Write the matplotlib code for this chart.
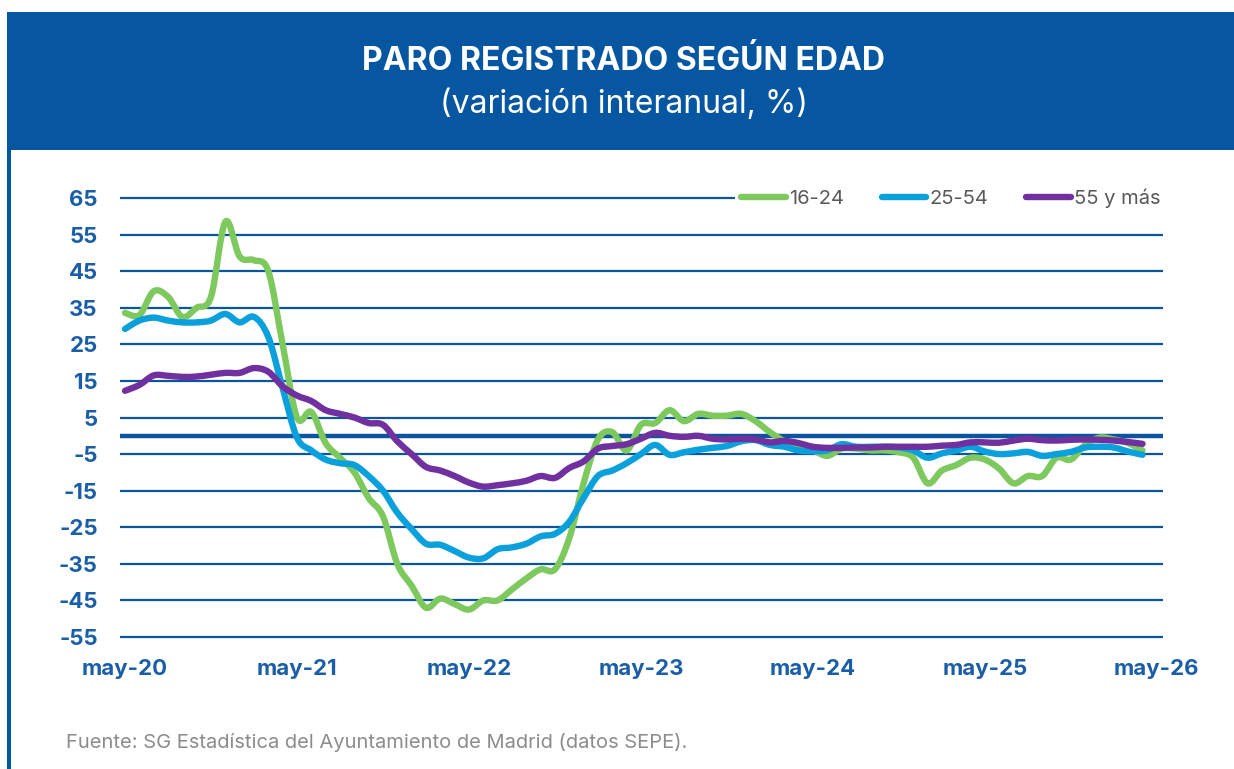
import matplotlib
matplotlib.use("Agg")
import matplotlib.pyplot as plt
from matplotlib.patches import Rectangle, PathPatch
from matplotlib.path import Path
from matplotlib.lines import Line2D

title = "PARO REGISTRADO SEGÚN EDAD"
subtitle = "(variación interanual, %)"
source = "Fuente: SG Estadística del Ayuntamiento de Madrid (datos SEPE)."

series_names = ["16-24", "25-54", "55 y más"]

x_tick_labels = ["may-20", "may-21", "may-22", "may-23", "may-24", "may-25", "may-26"]
y_ticks = [65, 55, 45, 35, 25, 15, 5, -5, -15, -25, -35, -45, -55]

# monthly values, may-20 onwards
g_16_24 = [33.6, 33, 39.5, 38, 32.5, 35, 38, 58.5, 49, 48, 45, 25,
           5, 6.5, -2, -6, -10, -17, -22, -35, -41, -47, -44.5, -46,
           -47.5, -45, -45, -42, -39, -36.5, -36.5, -28, -13, -1, 1, -4,
           3, 3.5, 7, 4, 6, 5.5, 5.5, 6, 4, 1, -1.5, -3.5,
           -4, -5.5, -3.5, -3.5, -4, -4, -4.5, -6, -13, -9.5, -8, -6,
           -6.5, -9, -13, -11, -11, -6, -6.5, -2.5, -0.5, -1, -2, -4]
g_25_54 = [29.2, 31.5, 32.3, 31.5, 31, 31, 31.5, 33.3, 31, 32.5, 27, 13,
           -0.5, -4, -6.5, -7.5, -8, -11, -15, -21, -25.5, -29.5, -29.8, -31.5,
           -33.3, -33.5, -31, -30.5, -29.5, -27.5, -26.8, -23.5, -17, -11, -9.5, -7.5,
           -5, -2.5, -5.2, -4.5, -3.8, -3.3, -2.8, -1.5, -1.2, -2.5, -3, -4,
           -4.2, -4, -2.3, -3, -3, -3, -3.2, -4, -6, -4.8, -4, -3,
           -4.3, -5, -4.8, -4.4, -5.5, -5, -4.4, -3.2, -3, -3.2, -4.3, -5.2]
g_55_mas = [12.3, 13.9, 16.5, 16.4, 16.1, 16.2, 16.7, 17.2, 17.2, 18.5, 17.5, 13.5,
            11, 9.5, 7, 6, 5, 3.5, 3, -1.5, -5, -8.5, -9.5, -11,
            -12.8, -13.9, -13.5, -13, -12.3, -11, -11.5, -8.8, -7, -3.5, -2.8, -2.3,
            -0.8, 0.8, 0, -0.3, 0, -0.8, -1, -0.8, -1, -1.8, -1.4, -2,
            -3, -3.3, -3.3, -3.2, -3.2, -3, -3, -3, -3, -2.7, -2.5, -1.8,
            -1.8, -1.9, -1.3, -0.8, -1.2, -1.3, -1.1, -1, -1.1, -1.3, -1.7, -2.2]

colors = ["#7dc95e", "#0aa0dc", "#7030a0"]
header_blue = "#0656a2"
grid_blue = "#0b559f"
tick_blue = "#1b5ea8"

W, H = 1234, 769
fig = plt.figure(figsize=(W / 100, H / 100), dpi=100)
fig.patch.set_facecolor("white")

def fx(px):
    return px / W

def fy(py):
    return 1 - py / H

def smooth_path(xs, ys):
    # smoothed line (like a spreadsheet "smoothed line") through the data points
    n = len(xs)
    verts = [(xs[0], ys[0])]
    codes = [Path.MOVETO]
    for i in range(n - 1):
        i0 = max(i - 1, 0)
        i3 = min(i + 2, n - 1)
        c1 = (xs[i] + (xs[i + 1] - xs[i0]) / 6, ys[i] + (ys[i + 1] - ys[i0]) / 6)
        c2 = (xs[i + 1] - (xs[i3] - xs[i]) / 6, ys[i + 1] - (ys[i3] - ys[i]) / 6)
        verts += [c1, c2, (xs[i + 1], ys[i + 1])]
        codes += [Path.CURVE4] * 3
    return Path(verts, codes)

# header band and left border
fig.patches.append(Rectangle((fx(8), fy(150)), fx(W), 138 / H, transform=fig.transFigure,
                             facecolor=header_blue, edgecolor="none", zorder=0))
fig.patches.append(Rectangle((fx(7), 0), 3.5 / W, fy(12), transform=fig.transFigure,
                             facecolor=header_blue, edgecolor="none", zorder=0))

fig.text(fx(624), fy(62), title, color="white", fontsize=23, fontweight="bold",
         ha="center", va="center", family="Inter")
fig.text(fx(624), fy(104), subtitle, color="white", fontsize=23,
         ha="center", va="center", family="Inter")

# axes
left, right, top, bottom = 120, 1163, 198, 637
ax = fig.add_axes([fx(left), fy(bottom), (right - left) / W, (bottom - top) / H])
ax.set_facecolor("none")
x = list(range(len(g_16_24)))
ax.set_xlim(-0.35, 72.43)
ax.set_ylim(-55, 65)

for yv in y_ticks:
    ax.axhline(yv, color=grid_blue, lw=1.6, zorder=1, clip_on=False, solid_capstyle="butt")
ax.axhline(0, color=grid_blue, lw=3.2, zorder=1, solid_capstyle="butt")

for vals, c, name in zip([g_16_24, g_25_54, g_55_mas], colors, series_names):
    patch = PathPatch(smooth_path(x, vals), facecolor="none", edgecolor=c, lw=4.6,
                      capstyle="round", joinstyle="round", zorder=3, transform=ax.transData)
    ax.add_patch(patch)

for s in ax.spines.values():
    s.set_visible(False)
ax.set_yticks(y_ticks)
ax.set_yticklabels([str(v) for v in y_ticks])
ax.set_xticks([12 * i for i in range(len(x_tick_labels))])
ax.set_xticklabels(x_tick_labels)
ax.tick_params(axis="both", length=0, colors=tick_blue, labelsize=16)
ax.tick_params(axis="y", pad=16)
ax.tick_params(axis="x", pad=16)
for lab in ax.get_xticklabels() + ax.get_yticklabels():
    lab.set_fontweight("bold")
    lab.set_family("Inter")

handles = [Line2D([0], [0], color=c, lw=4.6, solid_capstyle="round") for c in colors]
leg = ax.legend(handles, series_names, loc="center right", bbox_to_anchor=(1.003, 1.0),
                ncol=3, frameon=True, fancybox=False, edgecolor="none", facecolor="white",
                framealpha=1, handlelength=2.2, handletextpad=0.15, columnspacing=1.9,
                prop={"family": "Inter", "size": 14.5}, borderpad=0.3, borderaxespad=0)
for t in leg.get_texts():
    t.set_color("#595959")
leg.set_zorder(4)

fig.text(fx(66), fy(742), source, color="#8c8c8c", fontsize=14.5, ha="left", va="center",
         family="Inter")

fig.savefig("out.png", dpi=100)
